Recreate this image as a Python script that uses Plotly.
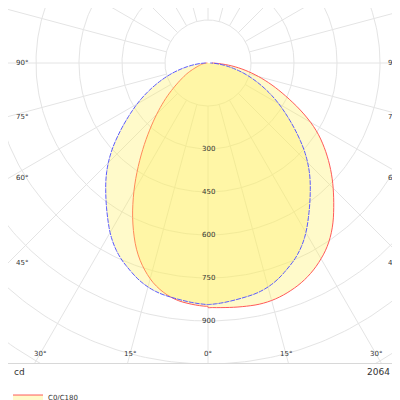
import numpy as np
import plotly.graph_objects as go

# angles from nadir (deg) and intensities (cd)
c0_ang = [0, 10, 15, 25, 35, 40, 50, 60, 65, 75, 85, 90]
c0_cd = [852, 860, 862, 827, 750, 680, 555, 420, 320, 180, 60, 0]
c180_ang = [0, 10, 18, 23, 29, 37, 45, 56, 70, 90]
c180_cd = [852, 830, 750, 663, 537, 373, 248, 126, 40, 0]
c90_ang = [0, 15, 27, 35, 45, 55, 68, 80, 90]
c90_cd = [845, 815, 725, 615, 495, 345, 190, 70, 0]
ring_vals = [150, 300, 450, 600, 750, 900, 1050, 1200, 1350, 1500]
ring_labels = [300, 450, 600, 750, 900]
side_ticks = [90, 75, 60, 45]
bottom_ticks = [30, 15, 0]
flux_text = "2064 lm"

S = 150 / 43.0  # cd per pixel
XR = 200 * S
YT, YB = 55 * S, -300 * S


def smooth(ang, val, sign):
    a = np.linspace(0, 90, 91)
    r = np.interp(a, ang, val)
    r = np.convolve(np.pad(r, 4, mode="edge"), np.ones(9) / 9, mode="valid")
    t = np.radians(a)
    return sign * r * np.sin(t), -r * np.cos(t)


fig = go.Figure()

# grid
th = np.linspace(0, 2 * np.pi, 361)
for rv in ring_vals:
    fig.add_trace(go.Scatter(x=rv * np.cos(th), y=rv * np.sin(th), mode="lines",
                             line=dict(color="#e4e4e4", width=1), hoverinfo="skip", showlegend=False))
for a in range(0, 360, 15):
    t = np.radians(a)
    fig.add_trace(go.Scatter(x=[150 * np.cos(t), 2000 * np.cos(t)], y=[150 * np.sin(t), 2000 * np.sin(t)],
                             mode="lines", line=dict(color="#e4e4e4", width=1), hoverinfo="skip", showlegend=False))

fill = "rgba(255,240,90,0.32)"
xr, yr = smooth(c0_ang, c0_cd, 1)
xl, yl = smooth(c180_ang, c180_cd, -1)
fig.add_trace(go.Scatter(x=np.concatenate([xl[::-1], xr]), y=np.concatenate([yl[::-1], yr]),
                         mode="lines", fill="toself", fillcolor=fill, line_shape="spline",
                         line=dict(color="#ff5a5a", width=1), name="C0/C180"))
xb, yb = smooth(c90_ang, c90_cd, 1)
fig.add_trace(go.Scatter(x=np.concatenate([-xb[::-1], xb]), y=np.concatenate([yb[::-1], yb]),
                         mode="lines", fill="toself", fillcolor=fill, line_shape="spline",
                         line=dict(color="#5a5aff", width=1, dash="5px,1px"), name="C90/C270"))

ann = []
for v in ring_labels:
    ann.append(dict(x=0, y=-v, text=str(v), showarrow=False))
for a in side_ticks:
    y = -XR / np.tan(np.radians(a)) if a != 90 else 0
    ann.append(dict(x=-XR + 6 * S, y=y, text=f"{a}°", showarrow=False, xanchor="left"))
    ann.append(dict(x=XR - 6 * S, y=y, text=f"{a}°", showarrow=False, xanchor="right"))
for a in bottom_ticks:
    yy = YB + 9 * S
    x = -yy * np.tan(np.radians(a))
    ann.append(dict(x=-x, y=yy, text=f"{a}°", showarrow=False))
    if a:
        ann.append(dict(x=x, y=yy, text=f"{a}°", showarrow=False))
ann.append(dict(x=0.01, y=-0.005, xref="paper", yref="paper", text="cd", showarrow=False,
                xanchor="left", yanchor="top", font=dict(size=9)))
ann.append(dict(x=0.995, y=-0.005, xref="paper", yref="paper", text=flux_text, showarrow=False,
                xanchor="right", yanchor="top", font=dict(size=9)))

fig.update_layout(
    width=400, height=400, margin=dict(l=0, r=0, t=0, b=45, autoexpand=False),
    plot_bgcolor="white", paper_bgcolor="white",
    font=dict(family="DejaVu Sans", size=7, color="#333"),
    annotations=ann,
    xaxis=dict(range=[-XR, XR], visible=True, showgrid=False, zeroline=False, showticklabels=False,
               showline=True, mirror=True, linecolor="#d8d8d8", fixedrange=True),
    yaxis=dict(range=[YB, YT], showgrid=False, zeroline=False, showticklabels=False,
               showline=True, mirror=True, linecolor="#d8d8d8", fixedrange=True),
    legend=dict(x=0.0, y=-0.055, xanchor="left", yanchor="top", font=dict(size=7),
                bgcolor="rgba(0,0,0,0)", tracegroupgap=0, itemwidth=30),
)
fig.write_html("out.html")
